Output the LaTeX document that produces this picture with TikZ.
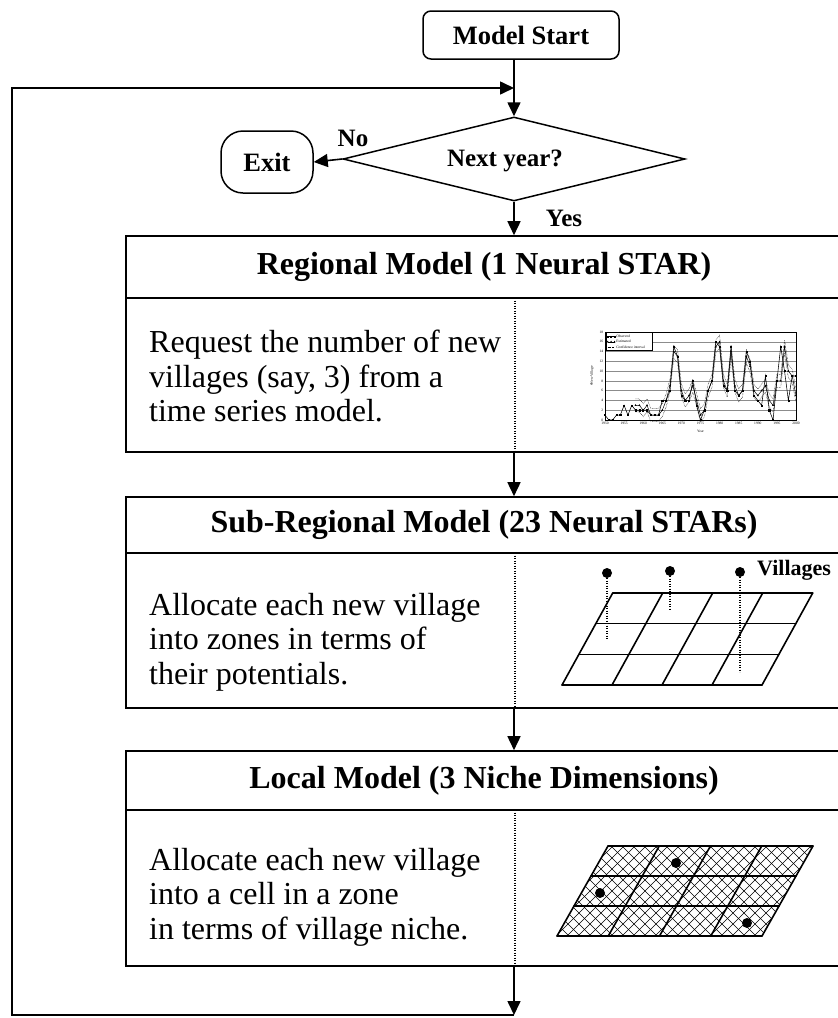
\documentclass[tikz,border=0pt]{standalone}
\usepackage{fontspec}
\setmainfont{Liberation Serif}
\usetikzlibrary{arrows.meta,shapes.geometric,plotmarks,calc}

\begin{document}
\begin{tikzpicture}[x=1pt,y=-1pt,
  flow/.style={line width=1.6pt},
  arr/.style={flow,-{Triangle[length=14pt,width=13pt]}},
  term/.style={draw,line width=1.5pt,inner sep=0pt,font=\bfseries\fontsize{26.5}{30}\selectfont},
  modelbox/.style={draw,line width=1.6pt,minimum width=716pt,inner sep=0pt},
  boxtitle/.style={font=\bfseries\fontsize{32}{36}\selectfont,inner sep=0pt},
  bodytext/.style={font=\fontsize{32}{34.3}\selectfont,align=left,anchor=north west,inner sep=0pt},
  lbl/.style={font=\bfseries\fontsize{25}{30}\selectfont,inner sep=0pt},
  divider/.style={line width=1.1pt,dash pattern=on 1.1pt off 1.4pt},
  tinytext/.style={font=\fontsize{3.6}{4}\selectfont,inner sep=0.4pt},
  gridline/.style={line width=1.6pt,line cap=round,line join=round},
  dot/.style={circle,fill=black,inner sep=0pt,minimum size=10pt}]

\useasboundingbox (0,0) rectangle (838,1018);
\clip (0,0) rectangle (838,1018);

% ---------- start, decision, exit ----------
\node[term,rounded corners=8pt,minimum width=196pt,minimum height=48pt] (start) at (521,35) {Model Start};
\node[draw,diamond,line width=1.5pt,inner sep=0pt,minimum width=342pt,minimum height=84pt] (ny) at (514,159) {};
\node[lbl] (nytext) at (505,161) {Next year?};
\node[term,rounded corners=22pt,minimum width=92pt,minimum height=62pt] (exit) at (267,162) {Exit};
\node[lbl] (no) at (353,138) {No};
\node[lbl] (yes) at (564,218) {Yes};

% ---------- the three model boxes ----------
\node[modelbox,minimum height=216pt] (reg) at (484,344) {};
\node[modelbox,minimum height=211pt] (sub) at (484,602.5) {};
\node[modelbox,minimum height=215pt] (loc) at (484,858.5) {};

\draw[flow] (126,298) -- (842,298);
\draw[flow] (126,553) -- (842,553);
\draw[flow] (126,810) -- (842,810);

\draw[divider] (515,298) -- (515,452);
\draw[divider] (515,553) -- (515,708);
\draw[divider] (515,810) -- (515,966);

\node[boxtitle] (regtitle) at (484,267) {Regional Model (1 Neural STAR)};
\node[boxtitle] (subtitle) at (484,525) {Sub-Regional Model (23 Neural STARs)};
\node[boxtitle] (loctitle) at (484,781) {Local Model (3 Niche Dimensions)};

\node[bodytext] (regtext) at (149,330) {Request the number of new\\villages (say, 3) from a\\time series model.};
\node[bodytext] (subtext) at (149,593) {Allocate each new village\\into zones in terms of\\their potentials.};
\node[bodytext] (loctext) at (149,848) {Allocate each new village\\into a cell in a zone\\in terms of village niche.};

% ---------- connectors ----------
\coordinate (join) at (514,88);
\coordinate (lowend) at (514,1015);
\coordinate (leftup) at (12,88);

\draw[arr] (start.south -| ny.north) -- (ny.north);
\draw[arr] (ny.west) -- (exit.east);
\draw[arr] (ny.south) -- (ny.south |- reg.north);
\draw[arr] (ny.south |- reg.south) -- (ny.south |- sub.north);
\draw[arr] (ny.south |- sub.south) -- (ny.south |- loc.north);
\draw[arr] (ny.south |- loc.south) -- (lowend);
\draw[arr] (lowend) -| (leftup) -- (join);

% ---------- time series chart ----------
\begin{scope}[shift={(605,420)},x=3.82pt,y=4.89pt]
  \foreach \v in {2,4,...,18} \draw[black!45,line width=0.35pt] (0,\v) -- (50,\v);
  \draw[line width=0.45pt] (0,0) rectangle (50,18);
  \foreach \v in {0,2,...,18} \node[tinytext,anchor=east] at (-0.3,\v) {\v};
  \foreach \yr in {1950,1955,...,2000} \node[tinytext,anchor=north] at ({\yr-1950},-0.3) {\yr};
  \node[tinytext] at (25,-2.4) {Year};
  \node[tinytext,rotate=90] at (-3.4,9) {\#New Village};
  % confidence band
  \foreach \s in {6.5pt,-6.5pt}
    \draw[line width=0.45pt,dash pattern=on 0.5pt off 0.9pt,yshift=\s] plot coordinates {(8,3) (9,3) (10,2) (11,3) (12,1) (13,1) (14,1) (15,2) (16,4) (17,7) (18,14) (19,13) (20,6) (21,4) (22,5) (23,7) (24,4) (25,1) (26,2) (27,6) (28,8) (29,15) (30,16) (31,8) (32,6) (33,14) (34,7) (35,5) (36,6) (37,13) (38,11) (39,6) (40,5) (41,6) (42,7) (43,4) (44,3) (45,8) (46,8) (47,15) (48,10) (49,9) (50,5)};
  % estimated
  \draw[line width=0.5pt] plot[mark=triangle*,mark size=0.7pt] coordinates {(8,3) (9,3) (10,2) (11,3) (12,1) (13,1) (14,1) (15,2) (16,4) (17,7) (18,14) (19,13) (20,6) (21,4) (22,5) (23,7) (24,4) (25,1) (26,2) (27,6) (28,8) (29,15) (30,16) (31,8) (32,6) (33,14) (34,7) (35,5) (36,6) (37,13) (38,11) (39,6) (40,5) (41,6) (42,7) (43,4) (44,3) (45,8) (46,8) (47,15) (48,10) (49,9) (50,5)};
  % observed
  \draw[line width=0.55pt] plot[mark=square*,mark size=0.55pt] coordinates {(0,1) (1,0) (2,0) (3,1) (4,1) (5,3) (6,1) (7,3) (8,2) (9,2) (10,2) (11,2) (12,1) (13,1) (14,1) (15,4) (16,4) (17,6) (18,15) (19,13) (20,5) (21,4) (22,4) (23,8) (24,3) (25,0) (26,2) (27,6) (28,8) (29,16) (30,15) (31,7) (32,6) (33,15) (34,6) (35,5) (36,6) (37,14) (38,12) (39,5) (40,4) (41,3) (42,9) (43,2) (44,0) (45,8) (46,15) (47,10) (48,4) (49,9) (50,9)};
  % legend
  \draw[fill=white,line width=0.4pt] (0.2,17.9) rectangle (12.3,14.3);
  \draw[line width=0.5pt] plot[mark=square*,mark size=0.5pt] coordinates {(0.7,17.1) (1.6,17.1) (2.5,17.1)};
  \node[tinytext,anchor=west] at (2.8,17.1) {Observed};
  \draw[line width=0.5pt] plot[mark=triangle*,mark size=0.6pt] coordinates {(0.7,16.0) (1.6,16.0) (2.5,16.0)};
  \node[tinytext,anchor=west] at (2.8,16.0) {Estimated};
  \draw[line width=0.45pt,dash pattern=on 0.5pt off 0.9pt] (0.7,14.9) -- (2.5,14.9);
  \node[tinytext,anchor=west] at (2.8,14.9) {Confidence interval};
\end{scope}

% ---------- zones with villages ----------
\begin{scope}[shift={(562,685)},x={(50pt,0pt)},y={(16.9pt,30.67pt)}]
  \foreach \r in {0,...,3} \draw[gridline] (0,\r) -- (4,\r);
  \foreach \c in {0,...,4} \draw[gridline] (\c,0) -- (\c,3);
\end{scope}
\node[dot] (v1) at (607,573) {};
\node[dot] (v2) at (670,571) {};
\node[dot] (v3) at (740,572) {};
\draw[divider,line width=1.3pt] (v1.center) -- (607,639);
\draw[divider,line width=1.3pt] (v2.center) -- (670,609);
\draw[divider,line width=1.3pt] (v3.center) -- (740,672);
\node[font=\bfseries\fontsize{22}{26}\selectfont,anchor=west,inner sep=0pt] (vill) at (757,570) {Villages};

% ---------- zones with cells ----------
\begin{scope}
  \clip (557,936) -- (762,936) -- (813,846) -- (608,846) -- cycle;
  \foreach \k in {0,...,45} {
    \draw[line width=0.6pt] ({447+11*\k},946) -- ++(110,-110);
    \draw[line width=0.6pt] ({447+11*\k},946) -- ++(-110,-110);
  }
\end{scope}
\begin{scope}[shift={(557,936)},x={(51.25pt,0pt)},y={(17pt,30pt)}]
  \foreach \r in {0,...,3} \draw[gridline] (0,\r) -- (4,\r);
  \foreach \c in {0,...,4} \draw[gridline] (\c,0) -- (\c,3);
\end{scope}
\node[dot] (c1) at (676,863) {};
\node[dot] (c2) at (600,893) {};
\node[dot] (c3) at (747,923) {};

\end{tikzpicture}
\end{document}
